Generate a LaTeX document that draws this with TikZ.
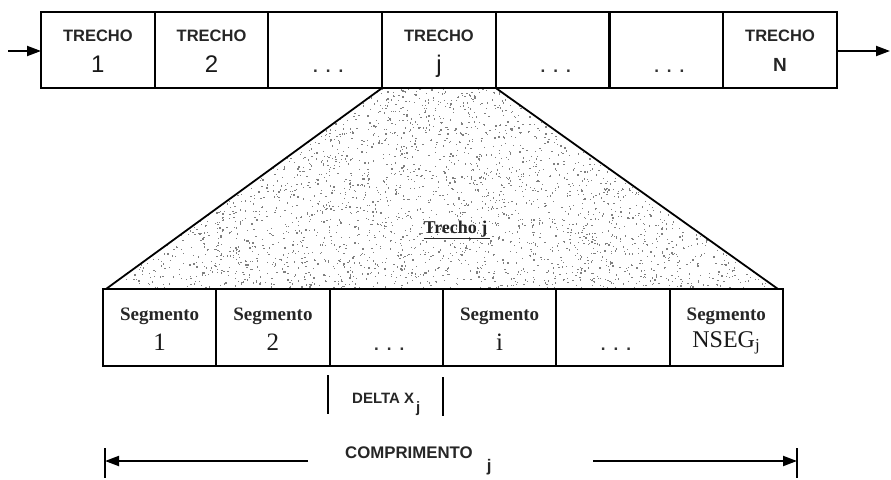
\documentclass[tikz,border=0pt]{standalone}
\usepackage{fontspec}
\setmainfont{Liberation Serif}
\newfontfamily\lsans{Liberation Sans}
\usetikzlibrary{arrows.meta,calc}
\begin{document}
\begin{tikzpicture}[x=1pt,y=-1pt,
  cell/.style={draw, line width=2.1pt, minimum width=113.7pt, minimum height=76pt, inner sep=0pt, outer sep=0pt},
  segcell/.style={draw, line width=2.1pt, minimum width=113.33pt, minimum height=77pt, inner sep=0pt, outer sep=0pt},
  captxt/.style={font=\lsans\bfseries\fontsize{16.5}{18}\selectfont, text=black!85, inner sep=0pt, anchor=base},
  numtxt/.style={font=\lsans\fontsize{24}{26}\selectfont, text=black!90, inner sep=0pt, anchor=base},
  segtxt/.style={font=\bfseries\fontsize{19}{21}\selectfont, text=black!85, inner sep=0pt, anchor=base},
  snumtxt/.style={font=\fontsize{25}{27}\selectfont, text=black!90, inner sep=0pt, anchor=base},
  dotstxt/.style={font=\lsans\bfseries\fontsize{17}{18}\selectfont, text=black!80, inner sep=0pt, anchor=base},
  arr/.style={-{Triangle[length=14pt,width=10pt]}, line width=2pt},
  bar/.style={line width=2pt},
  stip/.style={fill=black!50}
]
\useasboundingbox (0,0) rectangle (891,479);

% top row of reaches
\foreach \i in {1,...,7}{
  \node[cell] (t\i) at ({41+113.7*(\i-0.5)},50) {};
}
% bottom row of segments
\foreach \i in {1,...,6}{
  \node[segcell] (s\i) at ({103+113.33*(\i-0.5)},327.5) {};
}

% stippled trapezoid
\begin{scope}
  \clip ($(t4.south west)+(0,1.2)$) -- ($(t4.south east)+(0,1.2)$) -- ($(s6.north east)+(-5,-1.2)$) -- ($(s1.north west)+(3,-1.2)$) -- cycle;
  \pgfmathsetseed{7}
  \foreach \k in {1,...,4400}{
    \fill[stip] ({106+672*rnd},{88+201*rnd}) rectangle ++(1.3,1.3);
  }
\end{scope}
\draw[line width=1.8pt] (t4.south west) -- ($(s1.north west)+(3,0)$);
\draw[line width=1.8pt] (t4.south east) -- ($(s6.north east)+(-5,0)$);
\node[font=\bfseries\fontsize{18}{20}\selectfont, text=black!85, inner sep=0pt, anchor=base] (tj) at (457,233) {\underline{Trecho j\,}};

% top labels
\foreach \i/\n in {1/1,2/2,4/j}{
  \node[captxt] (tc\i) at ($(t\i.center)+(0,-8.5)$) {TRECHO};
  \node[numtxt] (tn\i) at ($(t\i.center)+(0,22)$) {\n};
}
\node[captxt] (tc7) at ($(t7.center)+(0,-8.5)$) {TRECHO};
\node[captxt, font=\lsans\bfseries\fontsize{19}{20}\selectfont] (tn7) at ($(t7.center)+(0,21)$) {N};
\foreach \i in {3,5,6}{
  \node[dotstxt] (td\i) at ($(t\i.center)+(3,22)$) {.\hspace{8pt}.\hspace{8pt}.};
}

% bottom labels
\foreach \i/\n in {1/1,2/2,4/i}{
  \node[segtxt] (sc\i) at ($(s\i.center)+(0,-7.5)$) {Segmento};
  \node[snumtxt] (sn\i) at ($(s\i.center)+(0,23)$) {\n};
}
\node[segtxt] (sc6) at ($(s6.center)+(0,-7.5)$) {Segmento};
\node[snumtxt, font=\fontsize{24}{26}\selectfont] (sn6) at ($(s6.center)+(0,19.5)$) {NSEG$_{\mathrm{j}}$};
\foreach \i in {3,5}{
  \node[dotstxt] (sd\i) at ($(s\i.center)+(3,23)$) {.\hspace{8pt}.\hspace{8pt}.};
}

% flow arrows
\coordinate (inA) at (8,51);
\coordinate (outA) at (890,51);
\draw[arr] (inA) -- (inA -| t1.west);
\draw[arr] (outA -| t7.east) -- (outA);

% DELTA X_j
\draw[bar] ($(s3.south west)+(-2,9)$) -- ++(0,39);
\draw[bar] ($(s3.south east)+(0,11)$) -- ++(0,39);
\node[captxt, anchor=base west, font=\lsans\bfseries\fontsize{15}{17}\selectfont] (dx) at (352,403) {DELTA X\hspace{2pt}\raisebox{-9pt}{j}};

% COMPRIMENTO_j
\coordinate (cL) at (105,463);
\coordinate (cR) at (797,463);
\coordinate (cLs) at (308,461);
\coordinate (cRs) at (593,461);
\draw[bar] ($(cL)+(0,-15)$) -- ($(cL)+(0,15)$);
\draw[bar] ($(cR)+(0,-15)$) -- ($(cR)+(0,15)$);
\draw[arr] (cLs) -- (cLs -| cL);
\draw[arr] (cRs) -- (cRs -| cR);
\node[captxt, anchor=base west, font=\lsans\bfseries\fontsize{16.8}{18}\selectfont] (cmp) at (345,458) {COMPRIMENTO\hspace{14pt}\raisebox{-13.5pt}{j}};
\end{tikzpicture}
\end{document}
